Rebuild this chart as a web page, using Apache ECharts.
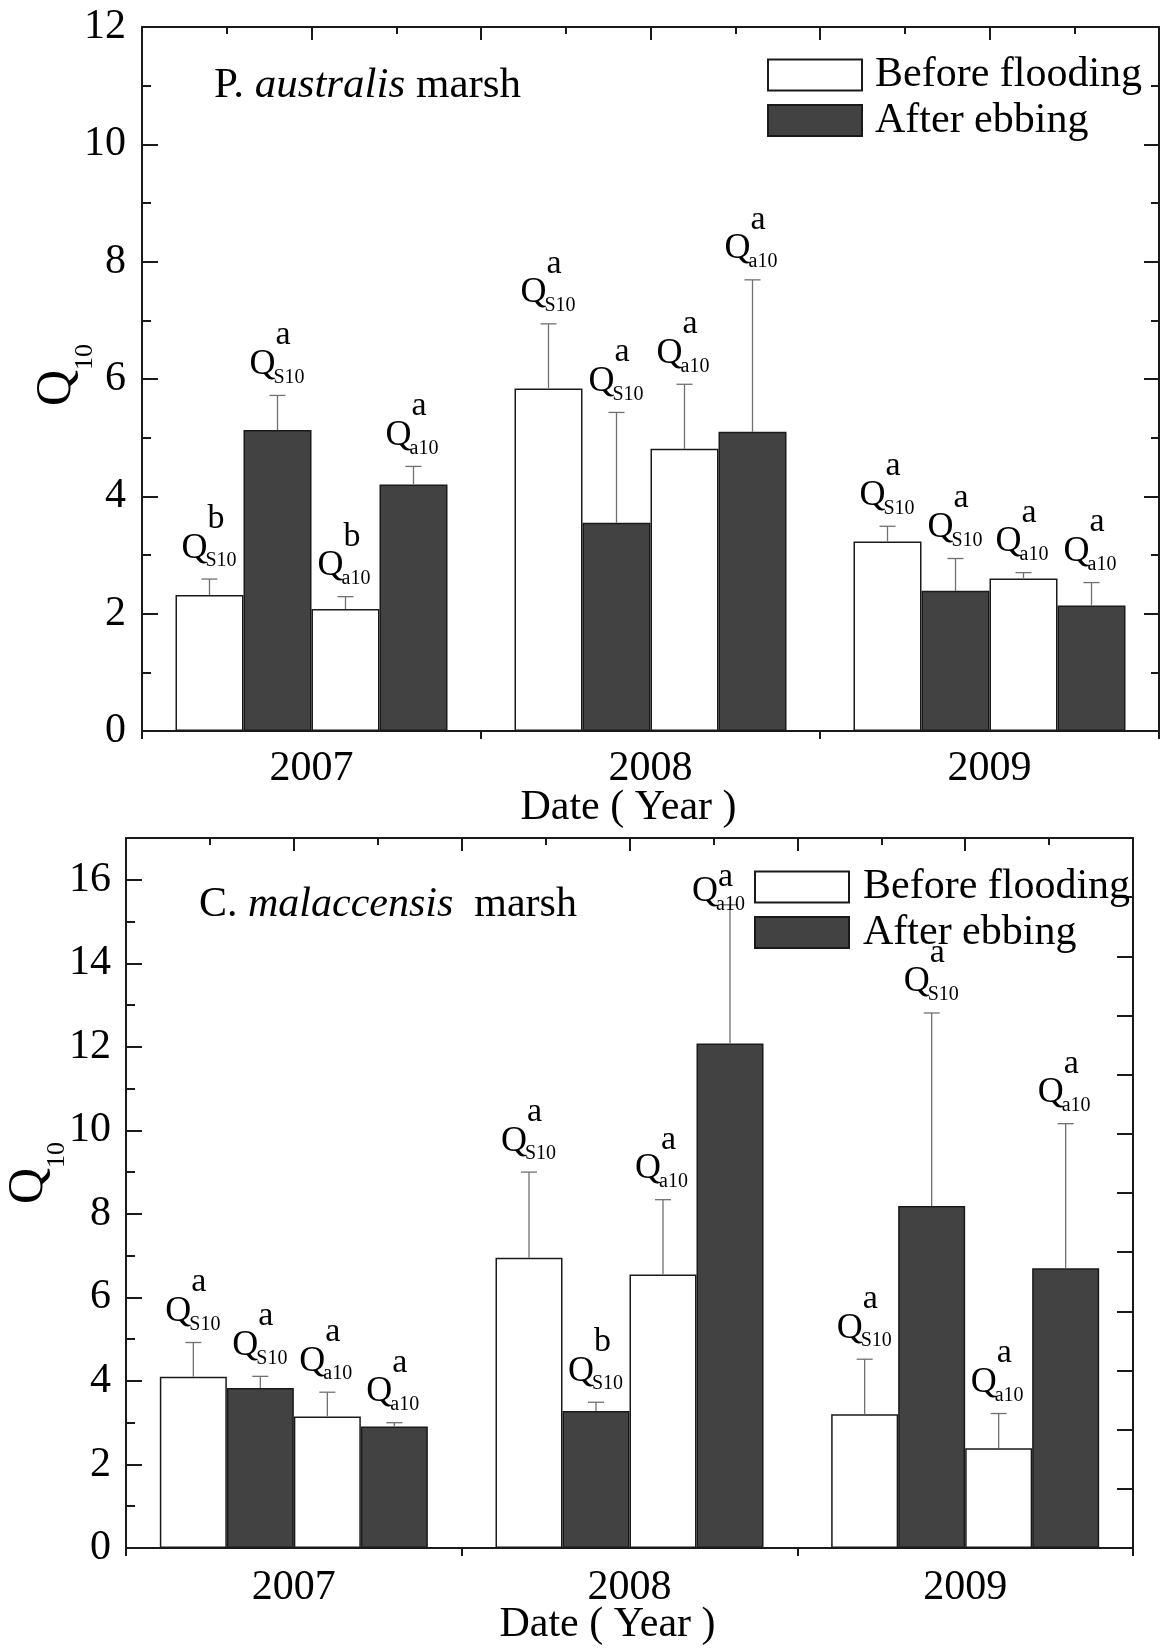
<!DOCTYPE html>
<html>
<head>
<meta charset="utf-8">
<title>Q10 before flooding / after ebbing</title>
<script src="https://cdn.jsdelivr.net/npm/echarts@6/dist/echarts.min.js"></script>
<style>
  html, body { margin: 0; padding: 0; background: #fff; }
  #chart { width: 1160px; height: 1648px; }
</style>
</head>
<body>
<div id="chart"></div>
<script>
// categories
const years = ['2007', '2008', '2009'];

// P. australis marsh (top panel)
const paS10Before = [2.32, 5.84, 3.23];
const paS10BeforeHi = [2.59, 6.94, 3.49];
const paS10After = [5.13, 3.55, 2.39];
const paS10AfterHi = [5.72, 5.43, 2.94];
const paA10Before = [2.08, 4.81, 2.60];
const paA10BeforeHi = [2.29, 5.91, 2.70];
const paA10After = [4.20, 5.10, 2.14];
const paA10AfterHi = [4.51, 7.69, 2.53];
const paLetters = [
  ['b', 'a', 'a'],
  ['a', 'a', 'a'],
  ['b', 'a', 'a'],
  ['a', 'a', 'a']
];

// C. malaccensis marsh (bottom panel)
const cmS10Before = [4.10, 6.95, 3.20];
const cmS10BeforeHi = [4.92, 9.00, 4.52];
const cmS10After = [3.83, 3.28, 8.19];
const cmS10AfterHi = [4.11, 3.49, 12.81];
const cmA10Before = [3.15, 6.55, 2.39];
const cmA10BeforeHi = [3.73, 8.34, 3.22];
const cmA10After = [2.91, 12.08, 6.70];
const cmA10AfterHi = [3.00, 15.40, 10.16];
const cmLetters = [
  ['a', 'a', 'a'],
  ['a', 'b', 'a'],
  ['a', 'a', 'a'],
  ['a', 'a', 'a']
];

const subs = ['S10', 'S10', 'a10', 'a10'];

const FONT = '"Liberation Serif", "Times New Roman", serif';
const DARK = '#424242';
const LINE = '#1a1a1a';
const ERR = '#707070';

const chart = echarts.init(document.getElementById('chart'));

function barSeries(name, data, color, xi, yi, barW) {
  return {
    type: 'bar', name: name, data: data,
    xAxisIndex: xi, yAxisIndex: yi,
    barWidth: barW, barGap: '0%',
    itemStyle: { color: color, borderColor: LINE, borderWidth: 1.5 },
    z: 2
  };
}

// error bar + Q label drawn from the same scales as the bars
function errSeries(xi, yi, bars, his, barIdx, sub, letters, barW, yMax) {
  return {
    type: 'custom', xAxisIndex: xi, yAxisIndex: yi, z: 5, silent: true,
    data: his.map((h, i) => [i, h]),
    encode: { x: 0, y: 1 },
    renderItem: function (params, api) {
      const i = params.dataIndex;
      const top = api.coord([i, api.value(1)]);
      const base = api.coord([i, bars[i]]);
      const ceil = api.coord([i, yMax])[1];
      const cx = top[0] + (barIdx - 1.5) * barW;
      const y1 = top[1];
      // near the frame the label slides down over the whisker and tightens
      const tight = y1 < ceil + 85;
      const ly = tight ? ceil + 85 : y1;
      const supY = tight ? ly - 46 : ly - 60;
      const qx = tight ? cx - 38 : cx - 28;
      const txt = (t, x, y, size) => ({
        type: 'text',
        style: {
          text: t, x: x, y: y, fill: '#000',
          fontSize: size, fontFamily: FONT,
          align: 'left', verticalAlign: 'middle'
        }
      });
      return {
        type: 'group',
        children: [
          { type: 'line', shape: { x1: cx, y1: base[1], x2: cx, y2: y1 },
            style: { stroke: ERR, lineWidth: 1.3 } },
          { type: 'line', shape: { x1: cx - 8, y1: y1, x2: cx + 8, y2: y1 },
            style: { stroke: ERR, lineWidth: 1.3 } },
          txt('Q', qx, ly - 31, 36),
          txt(sub, qx + 24, ly - 18, 20),
          txt(letters[i], qx + 26, supY, 34)
        ]
      };
    }
  };
}

const axisLineStyle = { color: LINE, width: 2 };
const labelFont = { fontFamily: FONT, fontSize: 42, color: '#000' };
const nameRich = {
  q: { fontFamily: FONT, fontSize: 50, lineHeight: 66, verticalAlign: 'top', color: '#000' },
  s: { fontFamily: FONT, fontSize: 26, verticalAlign: 'bottom', color: '#000' }
};

function catAxis(grid, margin) {
  return {
    type: 'category', gridIndex: grid, position: 'bottom', data: years,
    axisLine: { onZero: false, lineStyle: axisLineStyle },
    axisTick: { alignWithLabel: true, inside: false, length: 14, lineStyle: { color: LINE, width: 2 } },
    axisLabel: Object.assign({ margin: margin }, labelFont),
    splitLine: { show: false },
    name: 'Date ( Year )', nameLocation: 'middle', nameGap: 56, nameMoveOverlap: false,
    nameTextStyle: { fontFamily: FONT, fontSize: 42, color: '#000', padding: [0, 44, 0, 0] }
  };
}
function boundaryAxis(grid) {
  return {
    type: 'value', gridIndex: grid, position: 'bottom', min: 0, max: 3, interval: 1,
    axisLine: { show: false, onZero: false },
    axisTick: { show: true, inside: false, length: 8, lineStyle: { color: LINE, width: 2 } },
    axisLabel: { show: false }, splitLine: { show: false }
  };
}
function topAxis(grid) {
  return {
    type: 'value', gridIndex: grid, position: 'top', min: 0, max: 6, interval: 1,
    axisLine: { show: true, onZero: false, lineStyle: axisLineStyle },
    axisTick: { show: true, inside: true, length: 13, lineStyle: { color: LINE, width: 2 } },
    minorTick: { show: true, splitNumber: 2, length: 7, lineStyle: { color: LINE, width: 2 } },
    axisLabel: { show: false }, splitLine: { show: false }, minorSplitLine: { show: false }
  };
}

const option = {
  animation: false,
  backgroundColor: '#fff',
  grid: [
    { left: 142, right: 1, top: 27, height: 704, outerBoundsMode: 'none', containLabel: false },
    { left: 126, right: 27, top: 838, height: 710, outerBoundsMode: 'none', containLabel: false }
  ],
  xAxis: [
    catAxis(0, 17), boundaryAxis(0), topAxis(0),
    catAxis(1, 19), boundaryAxis(1), topAxis(1)
  ],
  yAxis: [
    {
      type: 'value', gridIndex: 0, position: 'left', min: 0, max: 12, interval: 2,
      axisLine: { show: true, onZero: false, lineStyle: axisLineStyle },
      axisTick: { show: true, inside: true, length: 16, lineStyle: { color: LINE, width: 2 } },
      minorTick: { show: true, splitNumber: 2, length: 9, lineStyle: { color: LINE, width: 2 } },
      axisLabel: Object.assign({ margin: 16 }, labelFont),
      splitLine: { show: false }, minorSplitLine: { show: false },
      name: '{q|Q}{s|10}', nameLocation: 'middle', nameGap: 44, nameRotate: 90,
      nameMoveOverlap: false,
      nameTextStyle: { rich: nameRich, padding: [0, 0, 0, 8] }
    },
    {
      type: 'value', gridIndex: 0, position: 'right', min: 0, max: 12, interval: 2,
      axisLine: { show: true, onZero: false, lineStyle: axisLineStyle },
      axisTick: { show: true, inside: true, length: 15, lineStyle: { color: LINE, width: 2 } },
      minorTick: { show: true, splitNumber: 2, length: 8, lineStyle: { color: LINE, width: 2 } },
      axisLabel: { show: false }, splitLine: { show: false }, minorSplitLine: { show: false }
    },
    {
      type: 'value', gridIndex: 1, position: 'left', min: 0, max: 17, interval: 2,
      axisLine: { show: true, onZero: false, lineStyle: axisLineStyle },
      axisTick: { show: true, inside: true, length: 16, lineStyle: { color: LINE, width: 2 } },
      axisLabel: Object.assign({ margin: 15, showMaxLabel: false }, labelFont),
      splitLine: { show: false },
      name: '{q|Q}{s|10}', nameLocation: 'middle', nameGap: 56, nameRotate: 90,
      nameMoveOverlap: false,
      nameTextStyle: { rich: nameRich, padding: [0, 0, 0, 40] }
    },
    {
      type: 'value', gridIndex: 1, position: 'left', min: 0, max: 17, interval: 1,
      axisLine: { show: false, onZero: false },
      axisTick: { show: true, inside: true, length: 9, lineStyle: { color: LINE, width: 2 } },
      axisLabel: { show: false }, splitLine: { show: false }
    },
    {
      type: 'value', gridIndex: 1, position: 'right', min: 0, max: 12, interval: 1,
      axisLine: { show: true, onZero: false, lineStyle: axisLineStyle },
      axisTick: { show: true, inside: true, length: 16, lineStyle: { color: LINE, width: 2 } },
      axisLabel: { show: false }, splitLine: { show: false }
    }
  ],
  legend: [
    {
      orient: 'vertical', left: 767, top: 54, padding: 0,
      itemWidth: 94, itemHeight: 31, itemGap: 3.5, icon: 'rect',
      selectedMode: false,
      data: ['Before flooding', 'After ebbing'],
      textStyle: { fontFamily: FONT, fontSize: 42, color: '#000', padding: [0, 0, 0, 8] }
    },
    {
      orient: 'vertical', left: 754, top: 866, padding: 0,
      itemWidth: 94, itemHeight: 31, itemGap: 3.5, icon: 'rect',
      selectedMode: false,
      data: ['Before flooding', 'After ebbing'],
      textStyle: { fontFamily: FONT, fontSize: 42, color: '#000', padding: [0, 0, 0, 9] }
    }
  ],
  graphic: [
    {
      type: 'text', left: 214, top: 64,
      style: {
        text: '{n|P. }{i|australis}{n| marsh}',
        rich: {
          n: { fontFamily: FONT, fontSize: 43, fill: '#000' },
          i: { fontFamily: FONT, fontSize: 43, fontStyle: 'italic', fill: '#000' }
        }
      }
    },
    {
      type: 'text', left: 199, top: 884,
      style: {
        text: '{n|C. }{i|malaccensis}{n|  marsh}',
        rich: {
          n: { fontFamily: FONT, fontSize: 42, fill: '#000' },
          i: { fontFamily: FONT, fontSize: 42, fontStyle: 'italic', fill: '#000' }
        }
      }
    }
  ],
  series: [
    barSeries('Before flooding', paS10Before, '#fff', 0, 0, 68),
    barSeries('After ebbing', paS10After, DARK, 0, 0, 68),
    barSeries('Before flooding', paA10Before, '#fff', 0, 0, 68),
    barSeries('After ebbing', paA10After, DARK, 0, 0, 68),
    errSeries(0, 0, paS10Before, paS10BeforeHi, 0, subs[0], paLetters[0], 68, 12),
    errSeries(0, 0, paS10After, paS10AfterHi, 1, subs[1], paLetters[1], 68, 12),
    errSeries(0, 0, paA10Before, paA10BeforeHi, 2, subs[2], paLetters[2], 68, 12),
    errSeries(0, 0, paA10After, paA10AfterHi, 3, subs[3], paLetters[3], 68, 12),

    barSeries('Before flooding', cmS10Before, '#fff', 3, 2, 67),
    barSeries('After ebbing', cmS10After, DARK, 3, 2, 67),
    barSeries('Before flooding', cmA10Before, '#fff', 3, 2, 67),
    barSeries('After ebbing', cmA10After, DARK, 3, 2, 67),
    errSeries(3, 2, cmS10Before, cmS10BeforeHi, 0, subs[0], cmLetters[0], 67, 17),
    errSeries(3, 2, cmS10After, cmS10AfterHi, 1, subs[1], cmLetters[1], 67, 17),
    errSeries(3, 2, cmA10Before, cmA10BeforeHi, 2, subs[2], cmLetters[2], 67, 17),
    errSeries(3, 2, cmA10After, cmA10AfterHi, 3, subs[3], cmLetters[3], 67, 17)
  ]
};

chart.setOption(option);
window.addEventListener('resize', () => chart.resize());
</script>
</body>
</html>
